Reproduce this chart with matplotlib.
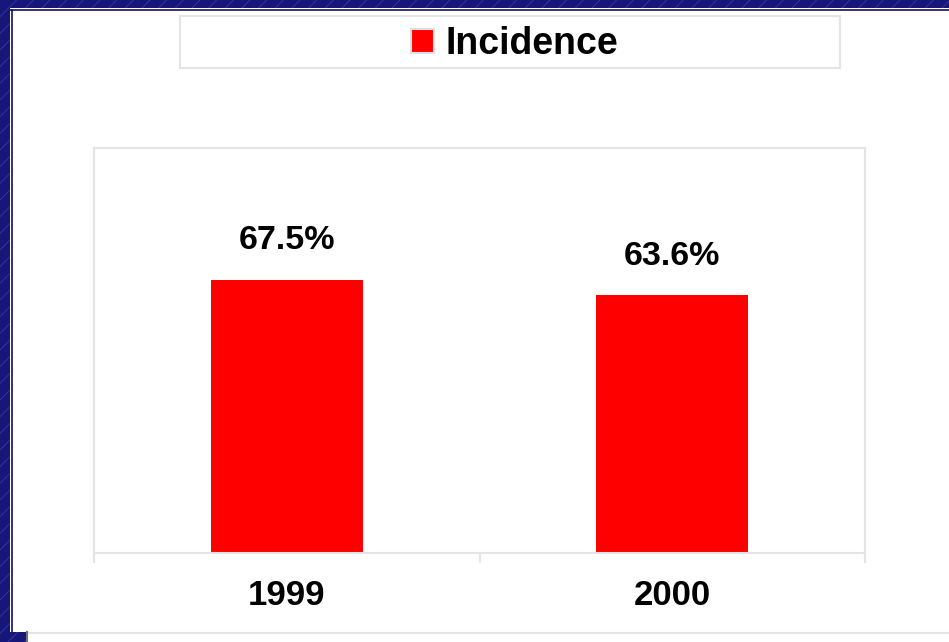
import numpy as np
import matplotlib
matplotlib.use('Agg')
import matplotlib.pyplot as plt
from matplotlib.patches import Rectangle
from matplotlib.lines import Line2D

years = ['1999', '2000']
incidence = [67.5, 63.6]
series_name = 'Incidence'

W, H = 949, 642
plt.rcParams['font.family'] = ['Liberation Sans', 'DejaVu Sans']
plt.rcParams['hatch.linewidth'] = 0.5

fig = plt.figure(figsize=(W / 100, H / 100), dpi=100)
fig.patch.set_facecolor('white')

def box(x, y, w, h, **kw):
    # pixel box, measured from the top-left corner
    r = Rectangle((x / W, 1 - (y + h) / H), w / W, h / H,
                  transform=fig.transFigure, **kw)
    fig.add_artist(r)
    return r

def hline(x0, x1, y, **kw):
    fig.add_artist(Line2D([x0 / W, x1 / W], [1 - y / H, 1 - y / H],
                          transform=fig.transFigure, **kw))

def vline(x, y0, y1, **kw):
    fig.add_artist(Line2D([x / W, x / W], [1 - y0 / H, 1 - y1 / H],
                          transform=fig.transFigure, **kw))

# slide background: navy hatched strips
navy = dict(facecolor='#17177a', edgecolor='#3c3cae', hatch='//', linewidth=0)
box(0, 0, 10, H, **navy)
box(0, 0, W, 8, **navy)
box(0, 632, 27, 10, **navy)
hline(10, W, 10, color='#10105a', lw=1.2)
vline(11.5, 10, 632, color='#10105a', lw=1.2)
hline(27, W, 632.5, color='#e4e4e4', lw=1.5)
vline(26.5, 632, H, color='#707070', lw=1.5)

ax = fig.add_axes([94 / W, (H - 553) / H, 771 / W, 405 / H])
x = np.arange(len(years))
bars = ax.bar(x, incidence, width=0.395, color='#ff0000', edgecolor='none',
              label=series_name)

for xi, v in zip(x, incidence):
    ax.text(xi, v + 5.8, '%.1f%%' % v, ha='center', va='bottom',
            fontsize=24.5, fontweight='bold', color='black')

ax.set_xlim(-0.5, len(years) - 0.5)
ax.set_ylim(0, 100)
ax.set_yticks([])
ax.set_xticks(x)
ax.set_xticklabels(years, fontsize=25, fontweight='bold')
ax.tick_params(axis='x', which='major', length=0, pad=19)
ax.set_xticks(np.arange(-0.5, len(years), 1.0), minor=True)
ax.tick_params(axis='x', which='minor', length=7, width=1.5, color='#e4e4e4')
for s in ax.spines.values():
    s.set_color('#e4e4e4')
    s.set_linewidth(1.5)

# legend box
box(180, 16, 660, 52, facecolor='none', edgecolor='#e4e4e4', lw=1.5)
leg = fig.legend(handles=[bars], labels=[series_name], loc='center',
                 bbox_to_anchor=(515 / W, 1 - 44 / H), frameon=False,
                 prop={'size': 27, 'weight': 'bold'},
                 handlelength=0.6, handleheight=0.6, handletextpad=0.32)
for p in leg.get_patches():
    p.set_edgecolor('#e0e0e0')
    p.set_linewidth(1.5)

fig.savefig('out.png', dpi=100)
